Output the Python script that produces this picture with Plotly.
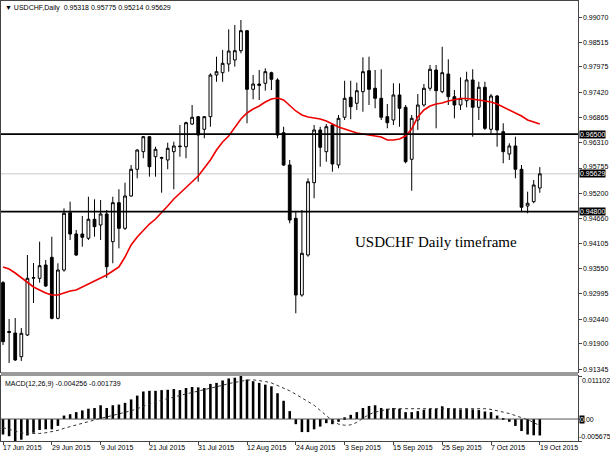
import plotly.graph_objects as go

# daily bars, index 0 = 17 Jun 2015 ... 88 = 19 Oct 2015
opens = [0.93241, 0.92170, 0.92137, 0.91617, 0.92093, 0.93340, 0.93337, 0.93629, 0.93798, 0.92459,
         0.93519, 0.94776, 0.94309, 0.94309, 0.94215, 0.94632, 0.94507, 0.94748, 0.94140, 0.94996,
         0.94434, 0.95143, 0.95729, 0.96115, 0.96444, 0.96005, 0.95970, 0.95933, 0.96115, 0.96224,
         0.96224, 0.96722, 0.96883, 0.96606, 0.96883, 0.97797, 0.97848, 0.98039, 0.98127, 0.98331,
         0.98770, 0.97484, 0.97600, 0.97615, 0.97848, 0.97688, 0.96532, 0.95823, 0.94653, 0.92970,
         0.93848, 0.95435, 0.96591, 0.96115, 0.96700, 0.95823, 0.96870, 0.97308, 0.97177, 0.97431,
         0.97892, 0.97506, 0.97286, 0.96883, 0.96810, 0.97359, 0.97089, 0.95948, 0.96810, 0.97139,
         0.97506, 0.97907, 0.97431, 0.97819, 0.97321, 0.97139, 0.97234, 0.97688, 0.97089, 0.97528,
         0.96606, 0.97337, 0.96553, 0.96064, 0.96240, 0.95729, 0.94923, 0.95018, 0.95318]
highs = [0.93278, 0.92444, 0.92466, 0.92247, 0.93848, 0.93673, 0.94140, 0.93739, 0.94250, 0.93666,
         0.94873, 0.95018, 0.94397, 0.94704, 0.95127, 0.95070, 0.95055, 0.94836, 0.95127, 0.95290,
         0.95435, 0.95823, 0.96167, 0.96459, 0.96459, 0.96224, 0.96005, 0.96312, 0.96334, 0.96700,
         0.96773, 0.97139, 0.96898, 0.96898, 0.97835, 0.98199, 0.98346, 0.98800, 0.98894, 0.99004,
         0.98785, 0.97797, 0.97907, 0.97944, 0.97870, 0.97725, 0.96663, 0.95933, 0.94798, 0.94836,
         0.95531, 0.96700, 0.96663, 0.96722, 0.96738, 0.96920, 0.97672, 0.97672, 0.97629, 0.98186,
         0.98199, 0.97907, 0.97923, 0.97161, 0.97615, 0.97615, 0.97139, 0.96920, 0.97381, 0.97600,
         0.98017, 0.98017, 0.98418, 0.98142, 0.97468, 0.97747, 0.97870, 0.97923, 0.97650, 0.97650,
         0.97381, 0.97359, 0.96738, 0.96299, 0.96444, 0.95823, 0.95237, 0.95494, 0.95775]
lows = [0.91874, 0.91479, 0.91523, 0.91523, 0.92071, 0.92795, 0.93241, 0.93146, 0.92437, 0.92437,
        0.93482, 0.94177, 0.93826, 0.94030, 0.94177, 0.94250, 0.94177, 0.93344, 0.93666, 0.93995,
        0.94397, 0.95127, 0.95531, 0.95970, 0.95566, 0.95566, 0.95215, 0.95729, 0.95290, 0.96005,
        0.95970, 0.96700, 0.95456, 0.96409, 0.96663, 0.97650, 0.97650, 0.97870, 0.97980, 0.98274,
        0.96738, 0.97264, 0.97249, 0.97453, 0.97468, 0.96409, 0.95801, 0.94544, 0.92569, 0.92933,
        0.93811, 0.95092, 0.95786, 0.95895, 0.95676, 0.95750, 0.96810, 0.96826, 0.97030, 0.96992,
        0.97139, 0.97067, 0.96810, 0.96628, 0.96700, 0.96663, 0.95860, 0.95259, 0.96591, 0.97102,
        0.97453, 0.96628, 0.97396, 0.97139, 0.96847, 0.97030, 0.97089, 0.96444, 0.96810, 0.96591,
        0.96481, 0.96224, 0.95860, 0.95933, 0.95531, 0.94798, 0.94763, 0.94983, 0.95214]
closes = [0.91946, 0.92150, 0.91545, 0.92131, 0.93337, 0.93350, 0.93614, 0.93168, 0.92459, 0.93519,
          0.94763, 0.94309, 0.93848, 0.94237, 0.94632, 0.94469, 0.94748, 0.93592, 0.94996, 0.94434,
          0.95143, 0.95729, 0.96152, 0.96444, 0.95786, 0.96167, 0.95985, 0.96189, 0.96240, 0.96235,
          0.96751, 0.96870, 0.96481, 0.96883, 0.97797, 0.97870, 0.98054, 0.98324, 0.98331, 0.98770,
          0.97484, 0.97600, 0.97571, 0.97870, 0.97703, 0.96481, 0.95823, 0.94616, 0.92970, 0.93886,
          0.95456, 0.96591, 0.96211, 0.96663, 0.95845, 0.96847, 0.97286, 0.97102, 0.97453, 0.97870,
          0.97484, 0.97286, 0.96870, 0.96751, 0.97359, 0.97067, 0.95895, 0.96847, 0.97139, 0.97506,
          0.97923, 0.97453, 0.97848, 0.97321, 0.97139, 0.97286, 0.97688, 0.97089, 0.97528, 0.96628,
          0.97337, 0.96591, 0.96115, 0.96240, 0.95729, 0.94895, 0.94983, 0.95384, 0.95629]

# red moving average
ma = [0.93585, 0.93541, 0.93453, 0.93344, 0.93256, 0.93146, 0.93080, 0.93015, 0.92971, 0.92971,
      0.93015, 0.93058, 0.93080, 0.93146, 0.93212, 0.93278, 0.93344, 0.93410, 0.93497, 0.93585,
      0.93804, 0.94068, 0.94243, 0.94397, 0.94528, 0.94638, 0.94770, 0.94923, 0.95077, 0.95209,
      0.95318, 0.95450, 0.95582, 0.95757, 0.95933, 0.96152, 0.96327, 0.96459, 0.96657, 0.96832,
      0.96964, 0.97052, 0.97117, 0.97205, 0.97271, 0.97293, 0.97249, 0.97117, 0.97008, 0.96920,
      0.96876, 0.96854, 0.96832, 0.96788, 0.96722, 0.96657, 0.96613, 0.96569, 0.96525, 0.96503,
      0.96481, 0.96459, 0.96437, 0.96371, 0.96371, 0.96393, 0.96459, 0.96613, 0.96876, 0.97030,
      0.97117, 0.97161, 0.97183, 0.97227, 0.97260, 0.97282, 0.97282, 0.97271, 0.97249, 0.97227,
      0.97205, 0.97161, 0.97095, 0.97030, 0.96964, 0.96898, 0.96810, 0.96766, 0.96722]

macd = [-0.0040, -0.00444, -0.005675, -0.00533, -0.00426, -0.00355, -0.00284, -0.00266, -0.00266, -0.00178,
        0.00089, 0.00124, 0.00178, 0.00222, 0.00266, 0.00284, 0.00355, 0.00284, 0.00355, 0.00373,
        0.00417, 0.00506, 0.00604, 0.0071, 0.00728, 0.00728, 0.00746, 0.00755, 0.00773, 0.00746,
        0.008, 0.00826, 0.00817, 0.008, 0.00906, 0.00932, 0.00995, 0.01048, 0.01066, 0.011102,
        0.01021, 0.00977, 0.00932, 0.00888, 0.00844, 0.00666, 0.00471, 0.00204, -0.00133, -0.00337,
        -0.00337, -0.00266, -0.00195, -0.00107, -0.00133, -0.00071, 0.00044, 0.00107, 0.00178, 0.00284,
        0.00337, 0.00355, 0.00284, 0.00266, 0.00284, 0.00266, 0.00178, 0.00178, 0.00204, 0.0024,
        0.00266, 0.00266, 0.00329, 0.00284, 0.00266, 0.00249, 0.00266, 0.00249, 0.00231, 0.00195,
        0.00178, 0.00089, 0.0001, -0.00071, -0.00178, -0.00311, -0.0040, -0.0042, -0.004256]
signal = [-0.00222, -0.00266, -0.00311, -0.00355, -0.00373, -0.00382, -0.00373, -0.00355, -0.00329, -0.00293,
          -0.0024, -0.00195, -0.00151, -0.00107, -0.00062, -0.00027, 0.00018, 0.00053, 0.00089, 0.00124,
          0.00169, 0.00213, 0.00266, 0.00329, 0.00391, 0.00444, 0.00488, 0.00533, 0.00577, 0.00613,
          0.00648, 0.00684, 0.00719, 0.00746, 0.00781, 0.00826, 0.0087, 0.00915, 0.0095, 0.00986,
          0.01003, 0.01012, 0.00995, 0.00968, 0.00932, 0.0087, 0.00799, 0.00728, 0.00639, 0.00551,
          0.00462, 0.00355, 0.00222, 0.00089, -0.00044, -0.00133, -0.0016, -0.00151, -0.00089, 0.00018,
          0.00115, 0.00178, 0.00222, 0.00249, 0.00266, 0.00266, 0.00266, 0.00266, 0.00266, 0.00266,
          0.00266, 0.00275, 0.00284, 0.00284, 0.00284, 0.00284, 0.00284, 0.00284, 0.00275, 0.00266,
          0.00249, 0.00222, 0.00178, 0.00142, 0.00089, 0.00044, -0.00018, -0.00089, -0.001739]

date_labels = ["17 Jun 2015", "29 Jun 2015", "9 Jul 2015", "21 Jul 2015", "31 Jul 2015", "12 Aug 2015",
               "24 Aug 2015", "3 Sep 2015", "15 Sep 2015", "25 Sep 2015", "7 Oct 2015", "19 Oct 2015"]
date_bars = [0, 8, 16, 24, 32, 40, 48, 56, 64, 72, 80, 88]

price_ticks = [0.99070, 0.98515, 0.97975, 0.97420, 0.96865, 0.96310, 0.95755, 0.95200,
               0.94660, 0.94105, 0.93550, 0.92995, 0.92440, 0.91900, 0.91345]
levels = [0.96500, 0.94800]
last_close = 0.95629
macd_max = 0.011102
macd_min = -0.005675

bars = list(range(len(closes)))
FONT = "Liberation Sans"
FS = 7

fig = go.Figure()
fig.add_trace(go.Candlestick(
    x=bars, open=opens, high=highs, low=lows, close=closes,
    increasing=dict(line=dict(color="black", width=1), fillcolor="white"),
    decreasing=dict(line=dict(color="black", width=1), fillcolor="black"),
    whiskerwidth=0, hoverinfo="skip", showlegend=False, xaxis="x", yaxis="y"))
fig.add_trace(go.Scatter(x=bars, y=ma, mode="lines", line=dict(color="#ee0000", width=1.6),
                         hoverinfo="skip", showlegend=False, xaxis="x", yaxis="y"))
fig.add_trace(go.Bar(x=bars, y=macd, width=0.42, marker=dict(color="black", line=dict(width=0)),
                     hoverinfo="skip", showlegend=False, xaxis="x2", yaxis="y2"))
fig.add_trace(go.Scatter(x=bars, y=signal, mode="lines", line=dict(color="#333333", width=1, dash="dot"),
                         hoverinfo="skip", showlegend=False, xaxis="x2", yaxis="y2"))

xr = [-0.33, 94.26]
main_dom = [0.1568, 1.0]
macd_dom = [0.0, 0.1477]

shapes = []
for lv in levels:
    shapes.append(dict(type="line", xref="x domain", yref="y", x0=0, x1=1, y0=lv, y1=lv,
                       line=dict(color="black", width=1.6)))
shapes.append(dict(type="line", xref="x domain", yref="y", x0=0, x1=1, y0=last_close, y1=last_close,
                   line=dict(color="#c8c8c8", width=1), layer="below"))
shapes.append(dict(type="rect", xref="paper", yref="paper", x0=0, x1=1, y0=macd_dom[1], y1=main_dom[0],
                   fillcolor="#9a9a9a", line=dict(width=0)))
shapes.append(dict(type="line", xref="x2 domain", yref="y2", x0=0, x1=1, y0=0, y1=0,
                   line=dict(color="#555555", width=1)))


def label(xref, yref, x, y, text, **kw):
    d = dict(xref=xref, yref=yref, x=x, y=y, text=text, showarrow=False, borderpad=0,
             xanchor="left", yanchor="middle", font=dict(family=FONT, size=FS, color="black"))
    d.update(kw)
    return d


annotations = [
    label("paper", "paper", 0.005, 1, "\u25bc USDCHF,Daily  0.95318 0.95775 0.95214 0.95629",
          yanchor="top", yshift=-2),
    label("paper", "paper", 0.005, macd_dom[1], "MACD(12,26,9) -0.004256 -0.001739",
          yanchor="top", yshift=-3),
    label("x", "y", 57.5, 0.9414, "USDCHF Daily timeframe",
          font=dict(family="Liberation Serif", size=15, color="black")),
]
for t in price_ticks:
    # 0.95755 peeks out above the last-price box, as in the original
    shift = 2 if abs(t - last_close) < 0.002 else 0
    annotations.append(label("paper", "y", 1, t, f"{t:.5f}", xshift=4, yshift=shift))
for lv in levels + [last_close]:
    annotations.append(label("paper", "y", 1, lv, f"{lv:.5f}", xshift=1, bgcolor="black",
                             font=dict(family=FONT, size=FS, color="white")))
annotations.append(label("paper", "y2", 1, macd_max, f"{macd_max:.6f}", yanchor="top", xshift=3))
annotations.append(label("paper", "y2", 1, macd_min, f"{macd_min:.6f}", yanchor="bottom", xshift=0))
annotations.append(label("paper", "y2", 1, 0, "0", xshift=1, bgcolor="black",
                         font=dict(family=FONT, size=FS, color="white")))
annotations.append(label("paper", "y2", 1, 0, ".00", xshift=5))
for b, lab in zip(date_bars, date_labels):
    annotations.append(label("x2", "paper", b, 0, lab, yanchor="top", xshift=-1, yshift=-2))

fig.update_layout(
    width=610, height=457,
    margin=dict(l=1, r=32, t=1, b=16),
    paper_bgcolor="white", plot_bgcolor="white",
    boxgap=0.35,
    font=dict(family=FONT, size=FS, color="black"),
    xaxis=dict(domain=[0, 1], range=xr, anchor="y", showticklabels=False, ticks="",
               showgrid=False, zeroline=False, showline=True, mirror=True, linecolor="#444444",
               linewidth=1, rangeslider=dict(visible=False), fixedrange=True),
    yaxis=dict(domain=main_dom, range=[0.91281, 0.99421], side="right", anchor="x",
               tickvals=price_ticks, showticklabels=False,
               ticks="outside", ticklen=3, tickcolor="#444444", showgrid=False, zeroline=False,
               showline=True, mirror=True, linecolor="#444444", linewidth=1),
    xaxis2=dict(domain=[0, 1], range=xr, anchor="y2", matches="x", tickvals=date_bars,
                showticklabels=False, ticks="outside", ticklen=3, tickcolor="#444444",
                showgrid=False, zeroline=False, showline=True, mirror=True, linecolor="#444444",
                linewidth=1),
    yaxis2=dict(domain=macd_dom, range=[macd_min, macd_max], side="right", anchor="x2",
                showticklabels=False, tickvals=[macd_max, 0, macd_min], ticks="outside", ticklen=3,
                tickcolor="#444444", showgrid=False, zeroline=False, showline=True, mirror=True,
                linecolor="#444444", linewidth=1),
    shapes=shapes, annotations=annotations, showlegend=False, bargap=0.5,
)

fig.write_html("out.html", config={"displayModeBar": False},
               post_script="document.body.style.margin='0';")
